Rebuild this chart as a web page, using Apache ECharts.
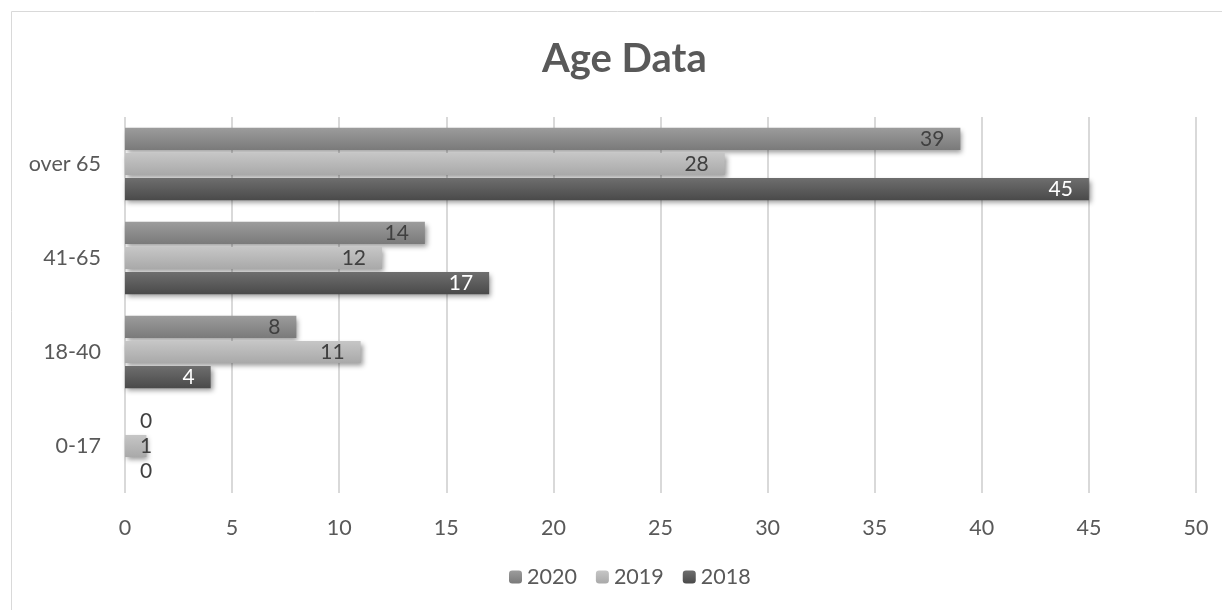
<!DOCTYPE html>
<html lang="en">
  <head>
    <meta charset="UTF-8" />
    <title>Age Data</title>
    <script src="https://cdn.jsdelivr.net/npm/echarts@6/dist/echarts.min.js"></script>
    <style>
      html, body { margin: 0; padding: 0; background: #fff; }
    </style>
  </head>
  <body>
    <div id="main" style="width: 1222px; height: 610px"></div>
    <script>
      // data
      var categories = ['0-17', '18-40', '41-65', 'over 65'];
      var years = ['2020', '2019', '2018'];
      var data2020 = [0, 8, 14, 39];
      var data2019 = [1, 11, 12, 28];
      var data2018 = [0, 4, 17, 45];
      var xTicks = [0, 5, 10, 15, 20, 25, 30, 35, 40, 45, 50];

      var seriesData = [data2020, data2019, data2018];
      // top / bottom of the gradient for each year
      var colors = [
        ['#9c9c9c', '#7a7a7a'],
        ['#c6c6c6', '#a9a9a9'],
        ['#6e6e6e', '#4a4a4a'],
      ];
      var labelColors = ['#404040', '#404040', '#ffffff'];
      var font = 'Lato';

      var mCharts = echarts.init(document.getElementById('main'));

      function grad(c) {
        return new echarts.graphic.LinearGradient(0, 0, 0, 1, [
          { offset: 0, color: c[0] },
          { offset: 1, color: c[1] },
        ]);
      }

      var series = [];
      for (let i = 0; i < years.length; i++) {
        let items = seriesData[i].map(function (v) {
          // small bars: Excel pushes the label just past the axis
          if (v < 2) {
            return { value: v, label: { position: 'insideLeft', distance: 15, color: '#404040' } };
          }
          return v;
        });
        series.push({
          name: years[i],
          type: 'bar',
          data: items,
          barGap: '14%',
          barCategoryGap: '23%',
          itemStyle: {
            color: grad(colors[i]),
            shadowColor: 'rgba(0,0,0,0.4)',
            shadowBlur: 5,
            shadowOffsetX: 2,
            shadowOffsetY: 3,
          },
          label: {
            show: true,
            position: 'insideRight',
            distance: 16,
            color: labelColors[i],
            fontFamily: font,
            fontSize: 21,
          },
        });
      }

      var option = {
        animation: false,
        title: {
          text: 'Age Data',
          left: 537,
          top: 34,
          textStyle: { fontFamily: font, fontSize: 40, fontWeight: 'bold', color: '#595959' },
        },
        legend: {
          data: years,
          bottom: 17,
          left: 504,
          itemWidth: 13,
          itemHeight: 13,
          itemGap: 19,
          textStyle: { fontFamily: font, fontSize: 21.5, color: '#595959' },
        },
        grid: { left: 125, right: 26, top: 117, bottom: 117, containLabel: false },
        xAxis: {
          type: 'value',
          min: xTicks[0],
          max: xTicks[xTicks.length - 1],
          interval: 5,
          axisLine: { show: false },
          axisTick: { show: false },
          axisLabel: { fontFamily: font, fontSize: 21.5, color: '#595959', margin: 24 },
          splitLine: { lineStyle: { color: '#d9d9d9', width: 2 } },
        },
        yAxis: {
          type: 'category',
          data: categories,
          axisLine: { show: false },
          axisTick: { show: false },
          axisLabel: { fontFamily: font, fontSize: 21.5, color: '#595959', margin: 24 },
        },
        graphic: [
          {
            type: 'rect',
            shape: { x: 11.5, y: 11.5, width: 1230, height: 620 },
            style: { fill: 'none', stroke: '#d9d9d9', lineWidth: 1 },
          },
        ],
        series: series,
      };

      mCharts.setOption(option);
    </script>
  </body>
</html>
